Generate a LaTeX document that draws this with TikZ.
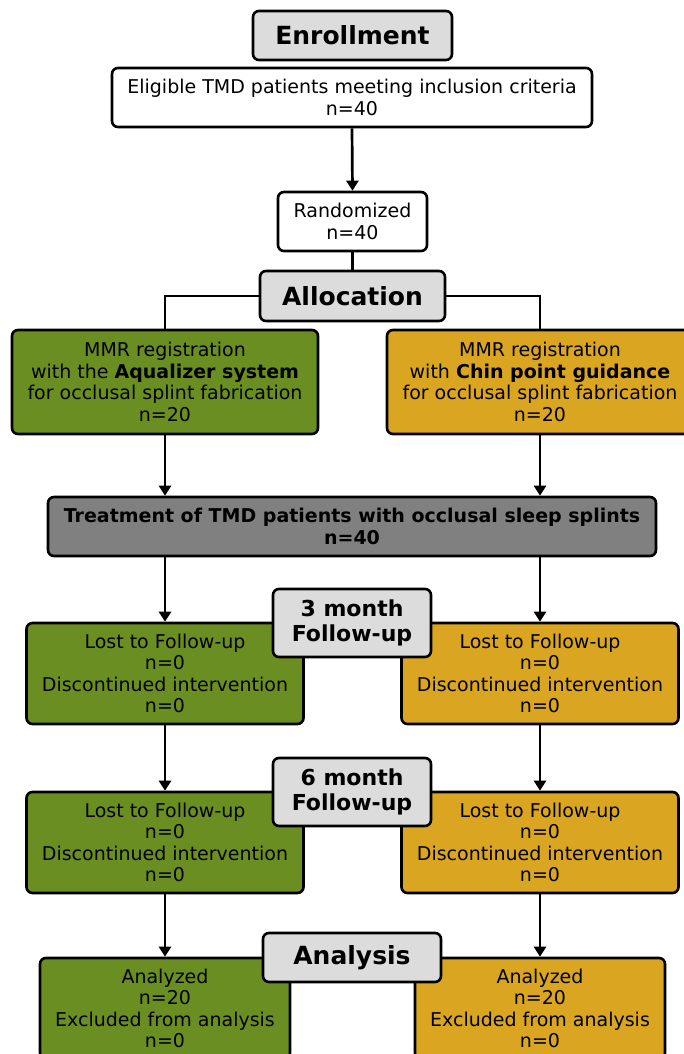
\documentclass[tikz,border=0pt]{standalone}
\usepackage{fontspec}
\setmainfont{DejaVu Sans}
\usetikzlibrary{arrows.meta}
\definecolor{grn}{HTML}{6B8E23}
\definecolor{gld}{HTML}{DAA520}
\definecolor{gry}{HTML}{808080}
\definecolor{lgry}{HTML}{DCDCDC}
\tikzset{
  box/.style={draw=black, line width=2.6pt, rounded corners=6pt, inner sep=0pt, align=center,
    font=\fontsize{19}{21.5}\selectfont},
  hdr/.style={box, fill=lgry, font=\fontsize{25}{28}\selectfont\bfseries},
  hdrs/.style={box, fill=lgry, font=\fontsize{22}{25}\selectfont\bfseries},
  gbox/.style={box, fill=grn},
  ybox/.style={box, fill=gld},
  wbox/.style={box, fill=white},
  conn/.style={line width=2.7pt},
  arr/.style={line width=2.7pt, -{Triangle[width=12pt,length=10pt]}},
}
\begin{document}
\begin{tikzpicture}[x=1pt,y=-1pt]
\useasboundingbox (0,0) rectangle (684,1054);
\clip (0,0) rectangle (684,1054);
% Enrollment
\node[hdr, minimum width=199pt, minimum height=49pt] (enr) at (352.5,35.5) {Enrollment};
\node[wbox, minimum width=480pt, minimum height=59pt] (elig) at (352,97.5) {Eligible TMD patients meeting inclusion criteria\\n=40};
\node[wbox, minimum width=149pt, minimum height=59pt] (rand) at (352.5,221.5) {Randomized\\ n=40};
\node[hdr, minimum width=185pt, minimum height=50pt] (alloc) at (352.5,296) {Allocation};
\draw[arr] (elig.south) -- (rand.north);
\draw[conn] (rand.south) -- (alloc.north);
% Allocation boxes
\node[gbox, minimum width=306pt, minimum height=104pt] (mg) at (165,382) {MMR registration\\with the \textbf{Aqualizer system}\\for occlusal splint fabrication\\n=20};
\node[ybox, minimum width=306pt, minimum height=104pt] (my) at (540,382) {MMR registration\\with \textbf{Chin point guidance}\\for occlusal splint fabrication\\n=20};
\draw[conn] (alloc.west) -| (mg.north);
\draw[conn] (alloc.east) -| (my.north);
% Treatment
\node[box, fill=gry, minimum width=608pt, minimum height=59pt, font=\fontsize{19}{21.5}\selectfont\bfseries] (treat) at (352,526.5) {Treatment of TMD patients with occlusal sleep splints\\n=40};
\draw[arr] (mg.south) -- (mg.south |- treat.north);
\draw[arr] (my.south) -- (my.south |- treat.north);
% 3 month
\node[gbox, minimum width=277pt, minimum height=101pt] (g3) at (165,673.5) {Lost to Follow-up\\n=0\\Discontinued intervention\\n=0};
\node[ybox, minimum width=277pt, minimum height=101pt] (y3) at (540,673.5) {Lost to Follow-up\\n=0\\Discontinued intervention\\n=0};
\node[hdrs, minimum width=158pt, minimum height=68pt] (m3) at (352,623) {3 month\\Follow-up};
\draw[arr] (g3.north |- treat.south) -- (g3.north);
\draw[arr] (y3.north |- treat.south) -- (y3.north);
% 6 month
\node[gbox, minimum width=277pt, minimum height=101pt] (g6) at (165,842.5) {Lost to Follow-up\\n=0\\Discontinued intervention\\n=0};
\node[ybox, minimum width=277pt, minimum height=101pt] (y6) at (540,842.5) {Lost to Follow-up\\n=0\\Discontinued intervention\\n=0};
\node[hdrs, minimum width=158pt, minimum height=68pt] (m6) at (352,792) {6 month\\Follow-up};
\draw[arr] (g3.south) -- (g6.north);
\draw[arr] (y3.south) -- (y6.north);
% Analysis
\node[gbox, minimum width=250pt, minimum height=101pt] (ga) at (165,1008.5) {Analyzed\\n=20\\Excluded from analysis\\n=0};
\node[ybox, minimum width=250pt, minimum height=101pt] (ya) at (540,1008.5) {Analyzed\\n=20\\Excluded from analysis\\n=0};
\node[hdr, minimum width=178pt, minimum height=49pt] (ana) at (352,957.5) {Analysis};
\draw[arr] (g6.south) -- (ga.north);
\draw[arr] (y6.south) -- (ya.north);
\end{tikzpicture}
\end{document}
